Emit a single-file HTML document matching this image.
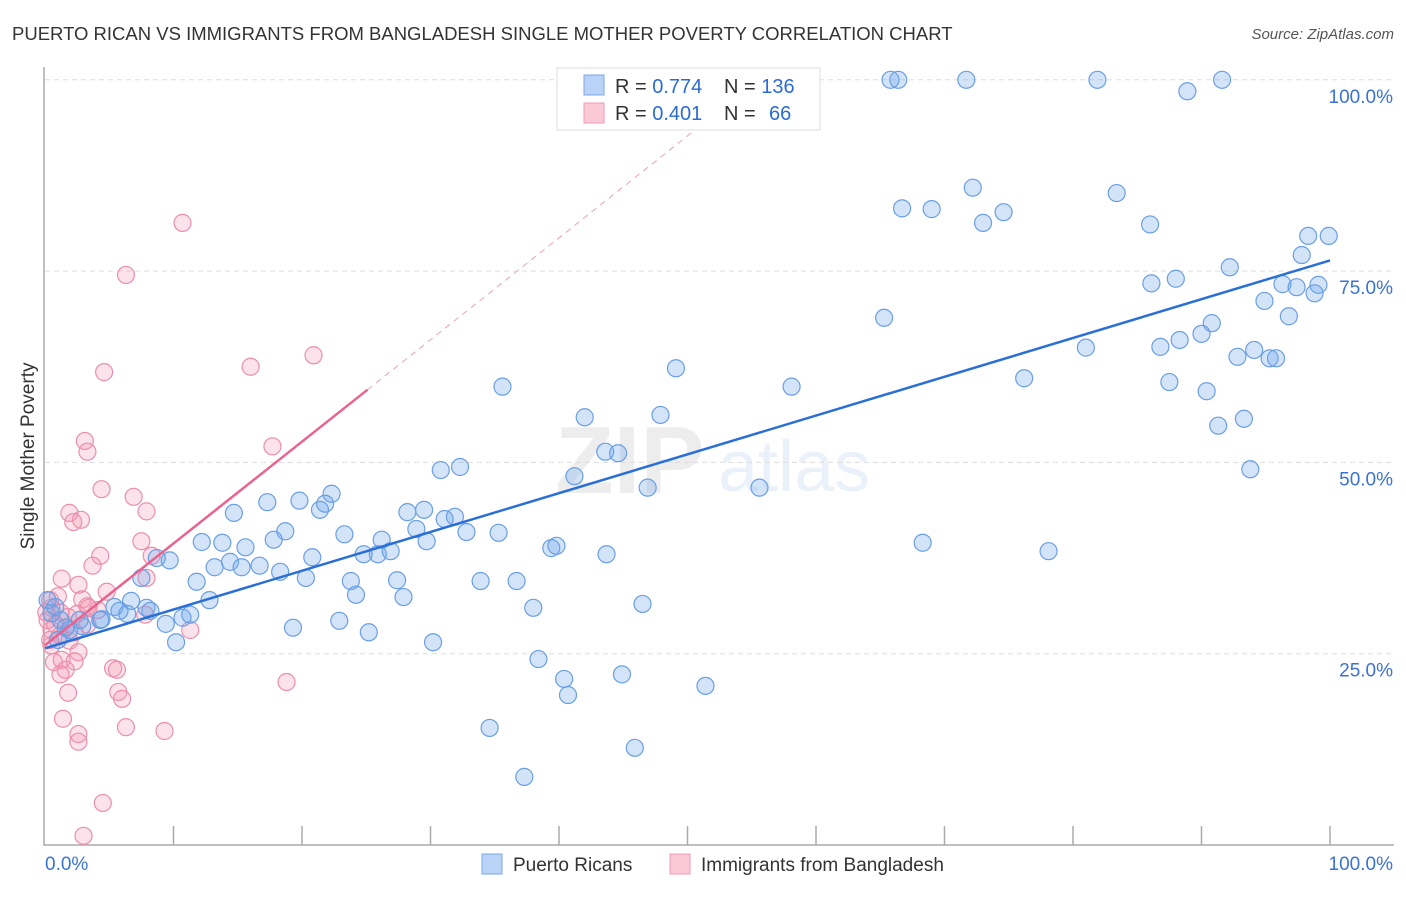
<!DOCTYPE html>
<html><head><meta charset="utf-8"><style>
body{margin:0;background:#fff;font-family:"Liberation Sans",sans-serif}
svg text{font-family:"Liberation Sans",sans-serif}
</style></head><body>
<svg id="c" width="1406" height="892" xmlns="http://www.w3.org/2000/svg">
<text x="12" y="40" font-size="18.5" fill="#333">PUERTO RICAN VS IMMIGRANTS FROM BANGLADESH SINGLE MOTHER POVERTY CORRELATION CHART</text>
<text x="1394" y="39" font-size="15" fill="#555" text-anchor="end" font-style="italic">Source: ZipAtlas.com</text>
<text x="34" y="456" font-size="19" fill="#333" text-anchor="middle" transform="rotate(-90 34 456)">Single Mother Poverty</text>
<g opacity="0.1"><text x="555" y="493" font-size="96" font-family="Liberation Serif" fill="#556" font-weight="bold">ZIP</text><text x="718" y="491" font-size="72" fill="#4a7fd8">atlas</text></g>
<g id="grid"></g><g id="axes"></g><g id="pts"></g><g id="trend"></g>
<g>
<rect x="557" y="68" width="263" height="62" fill="#fff" stroke="#ddd"/>
<rect x="584" y="75" width="20" height="20" fill="#b8d3f5" stroke="#7aa8e6"/>
<rect x="584" y="103" width="20" height="20" fill="#fbc8d7" stroke="#ef9bb5"/>
<text x="615" y="93" font-size="20" fill="#333">R = <tspan fill="#2a6bd6">0.774</tspan></text>
<text x="724" y="93" font-size="20" fill="#333">N = <tspan fill="#2a6bd6">136</tspan></text>
<text x="615" y="120" font-size="20" fill="#333">R = <tspan fill="#2a6bd6">0.401</tspan></text>
<text x="724" y="120" font-size="20" fill="#333">N =</text>
<text x="769" y="120" font-size="20" fill="#2a6bd6">66</text>
</g>
<g>
<rect x="482" y="854" width="20" height="20" fill="#b8d3f5" stroke="#7aa8e6"/>
<text x="513" y="871" font-size="19" fill="#333">Puerto Ricans</text>
<rect x="670" y="854" width="20" height="20" fill="#fbc8d7" stroke="#ef9bb5"/>
<text x="701" y="871" font-size="19" fill="#333">Immigrants from Bangladesh</text>
</g>
</svg>
<script>
const yTicks=[25,50,75,100];
const yTickLabels=["25.0%","50.0%","75.0%","100.0%"];
const xTickCount=10;
const bluePts=[[65.8,100],[66.4,100],[71.7,100],[81.9,100],[91.6,100],[88.9,98.5],[72.2,85.9],[83.4,85.2],[66.7,83.2],[69.0,83.1],[74.6,82.7],[73.0,81.3],[86.0,81.1],[98.3,79.6],[99.9,79.6],[97.8,77.1],[92.2,75.5],[86.1,73.4],[88.0,74.0],[96.3,73.3],[97.4,72.9],[99.1,73.2],[98.8,72.1],[94.9,71.1],[96.8,69.1],[65.3,68.9],[90.8,68.2],[90.0,66.8],[88.3,66.0],[86.8,65.1],[81.0,65.0],[94.1,64.7],[92.8,63.8],[95.3,63.6],[95.8,63.6],[49.1,62.3],[76.2,61.0],[87.5,60.5],[90.4,59.3],[58.1,59.9],[35.6,59.9],[42.0,55.9],[47.9,56.2],[93.3,55.7],[91.3,54.8],[43.6,51.4],[44.6,51.2],[93.8,49.1],[30.8,49.0],[32.3,49.4],[41.2,48.2],[46.9,46.7],[55.6,46.7],[17.3,44.8],[19.8,45.0],[22.3,45.9],[21.4,43.8],[21.8,44.6],[14.7,43.4],[28.2,43.5],[29.5,43.8],[31.1,42.6],[31.9,42.9],[28.9,41.3],[32.8,40.9],[18.7,41.0],[35.3,40.8],[29.7,39.7],[23.3,40.6],[26.2,39.9],[12.2,39.6],[13.8,39.5],[15.6,38.9],[17.8,39.9],[68.3,39.5],[78.1,38.4],[39.4,38.8],[39.8,39.1],[24.8,38.0],[25.9,38.0],[26.9,38.4],[20.8,37.6],[43.7,38.0],[9.7,37.2],[8.7,37.5],[14.4,37.0],[16.7,36.5],[13.2,36.3],[15.3,36.3],[18.3,35.7],[20.3,34.9],[11.8,34.4],[7.5,34.9],[23.8,34.5],[27.4,34.6],[33.9,34.5],[36.7,34.5],[24.2,32.7],[27.9,32.4],[12.8,32.0],[6.7,31.9],[5.4,31.1],[5.8,30.6],[7.9,31.0],[8.2,30.6],[38.0,31.0],[46.5,31.5],[10.7,29.7],[11.3,30.1],[6.4,30.2],[4.4,29.5],[9.4,28.9],[22.9,29.3],[19.3,28.4],[25.2,27.8],[10.2,26.5],[30.2,26.5],[2.9,28.6],[1.6,28.4],[1.2,29.4],[0.5,30.3],[0.2,32.0],[0.8,31.1],[38.4,24.3],[40.4,21.7],[44.9,22.3],[51.4,20.8],[40.7,19.6],[34.6,15.3],[45.9,12.7],[37.3,8.9],[4.3,29.4],[1.9,28.1],[2.7,29.4],[1.0,26.8]];
const pinkPts=[[10.7,81.3],[6.3,74.5],[20.9,64.0],[16.0,62.5],[4.6,61.8],[17.7,52.1],[3.1,52.8],[3.3,51.4],[4.4,46.5],[6.9,45.5],[1.9,43.4],[2.8,42.5],[2.2,42.2],[7.9,43.6],[7.5,39.7],[4.3,37.8],[8.3,37.8],[3.7,36.5],[1.3,34.8],[7.9,34.9],[2.6,34.0],[4.8,33.1],[2.9,32.1],[3.4,31.0],[4.1,30.7],[0.5,31.0],[1.2,30.4],[1.8,29.8],[2.5,30.2],[7.8,30.1],[11.3,28.1],[3.3,28.8],[0.5,28.1],[1.2,27.4],[0.4,26.8],[1.9,26.7],[2.6,25.2],[1.3,24.2],[2.3,24.0],[0.7,23.9],[1.6,22.9],[1.2,22.3],[5.3,23.1],[5.6,22.9],[18.8,21.3],[1.8,19.9],[5.7,20.0],[6.0,19.1],[6.3,15.4],[9.3,14.9],[1.4,16.5],[2.6,14.5],[2.6,13.5],[4.5,5.5],[3.0,1.2],[0.2,29.4],[0.8,28.8],[0.4,32.0],[1.0,32.5],[3.3,31.2],[2.3,27.8],[0.5,26.1],[1.6,28.4],[0.1,30.4]];
const blueTrend=[[0,25.7],[100,76.4]];
const pinkTrend=[[0,26.1],[25.1,59.5]];
const pinkDash=[[25.1,59.5],[55.5,100]];
const NS="http://www.w3.org/2000/svg";
const X=v=>45+v*12.85, Y=v=>845-v*7.652;
function mk(tag,attrs,parent){const e=document.createElementNS(NS,tag);for(const k in attrs)e.setAttribute(k,attrs[k]);document.getElementById(parent).appendChild(e);return e;}
yTicks.forEach((t,i)=>{
 const l=mk('line',{x1:45,x2:1394,y1:Y(t),y2:Y(t),stroke:'#ddd','stroke-dasharray':'5,4'},'grid');
 
 
 const tx=mk('text',{x:1393,y:Y(t)+23,'font-size':19,fill:'#3a72d6','text-anchor':'end'},'grid');tx.textContent=yTickLabels[i];
 
 
});
const ax=mk('path',{d:`M44,67V845H1394`,fill:'none',stroke:'#aaa','stroke-width':1.5},'axes');


for(let i=1;i<=xTickCount;i++){const t=mk('line',{x1:X(i*10),x2:X(i*10),y1:826,y2:845,stroke:'#aaa','stroke-width':1.5},'axes');
 
 }
const x0=mk('text',{x:45,y:870,'font-size':19,fill:'#3a72d6'},'axes');x0.textContent='0.0%';


const x1=mk('text',{x:1393,y:870,'font-size':19,fill:'#3a72d6','text-anchor':'end'},'axes');x1.textContent='100.0%';


pinkPts.forEach(p=>{const c=mk('circle',{cx:X(p[0]),cy:Y(p[1]),r:8.5,fill:'rgba(244,150,180,0.28)',stroke:'#ea8fac','stroke-width':1.2},'pts');
 
 });
bluePts.forEach(p=>{const c=mk('circle',{cx:X(p[0]),cy:Y(p[1]),r:8.5,fill:'rgba(110,165,235,0.3)',stroke:'#6a9fe4','stroke-width':1.2},'pts');
 
 });
const bt=mk('line',{x1:X(blueTrend[0][0]),y1:Y(blueTrend[0][1]),x2:X(blueTrend[1][0]),y2:Y(blueTrend[1][1]),stroke:'#2a6fd6','stroke-width':2.5},'trend');


const pt=mk('line',{x1:X(pinkTrend[0][0]),y1:Y(pinkTrend[0][1]),x2:X(pinkTrend[1][0]),y2:Y(pinkTrend[1][1]),stroke:'#e8648f','stroke-width':2.5},'trend');


const pd=mk('line',{x1:X(pinkDash[0][0]),y1:Y(pinkDash[0][1]),x2:X(pinkDash[1][0]),y2:Y(pinkDash[1][1]),stroke:'#eaa0b8','stroke-width':1,'stroke-dasharray':'6,5'},'trend');


</script>
</body></html>
